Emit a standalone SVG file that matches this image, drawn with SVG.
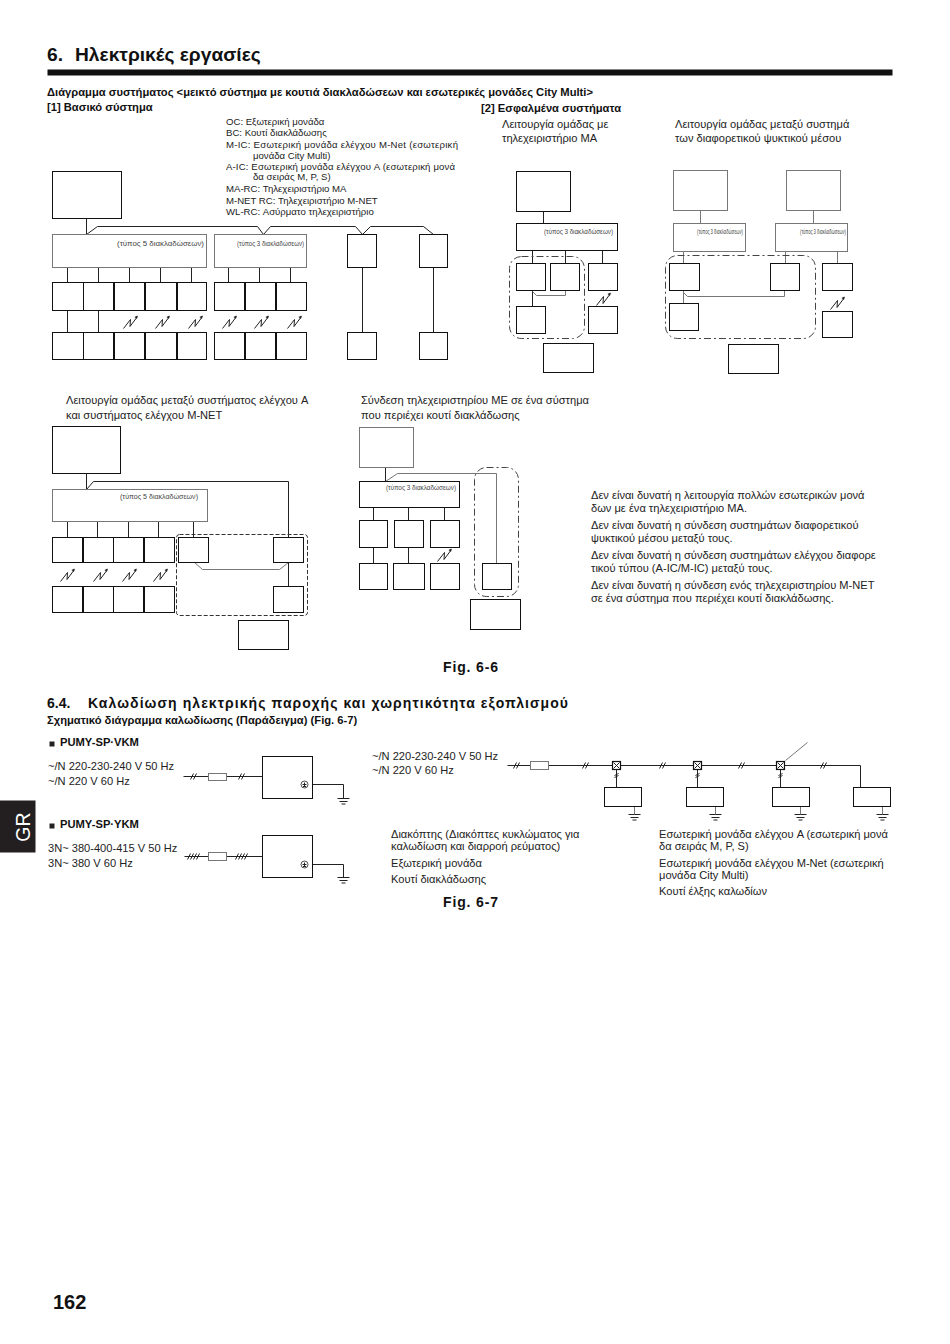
<svg xmlns="http://www.w3.org/2000/svg" width="950" height="1344" viewBox="0 0 950 1344">
<style>
text{font-family:"Liberation Sans",Arial,sans-serif;fill:#222;transform:translate(-.5px,-1px)}
.t{font-size:11.1px}
.s{font-size:9.6px}
.c{font-size:7.9px;fill:#444}
.cn{font-size:7.500px;fill:#444}
.b{font-weight:bold;font-size:11.2px;fill:#111}
.h{font-weight:bold;font-size:14px;fill:#111}
.f{font-weight:bold;font-size:14px;fill:#111}
rect{fill:#fff;stroke:#111;stroke-width:1}
.g rect,rect.g{stroke:#777}
path,line{fill:none;stroke:#222;stroke-width:1}
.gl{stroke:#777}
.d{fill:none;stroke:#444;stroke-dasharray:7 3 2 3}
</style>
<defs>
<symbol id="w" overflow="visible"><path d="M0 13L7 4L6.500 11L14 1" stroke-width=".8"/><path d="M14 0L11 1.500L13.500 3.500Z" style="fill:#222;stroke:none"/></symbol>
<symbol id="gnd" overflow="visible"><path d="M-6 0H6M-4 3H4M-2 5.500H2" stroke-width=".9"/></symbol>
<symbol id="sl" overflow="visible"><path d="M-3 3L0 -3M0 3L3 -3" stroke-width=".8"/></symbol>
<symbol id="sl4" overflow="visible"><path d="M-6 3L-3 -3M-3 3L0 -3M0 3L3 -3M3 3L6 -3" stroke-width=".8"/></symbol>
<symbol id="tb" overflow="visible"><rect x="-4" y="-4" width="8" height="8" style="stroke-width:1.200"/><path d="M-3 -3L3 3M3 -3L-3 3" stroke-width=".7"/></symbol>
</defs>
<g transform="translate(.5 .5)">
<g id="header">
<text x="47" y="61" style="font-size:19.2px;font-weight:bold;fill:#111">6.</text>
<text x="75" y="61" style="font-size:19.2px;font-weight:bold;fill:#111">Ηλεκτρικές εργασίες</text>
<path d="M47 72H892" style="stroke:#111;stroke-width:6"/>
<text class="b" x="47" y="96" textLength="546">Διάγραμμα συστήματος &lt;μεικτό σύστημα με κουτιά διακλαδώσεων και εσωτερικές μονάδες City Multi&gt;</text>
<text class="b" x="47" y="111">[1] Βασικό σύστημα</text>
<text class="b" x="481" y="112">[2] Εσφαλμένα συστήματα</text>
</g>
<g id="legend">
<text class="s" x="226" y="125">OC: Εξωτερική μονάδα</text>
<text class="s" x="226" y="136">BC: Κουτί διακλάδωσης</text>
<text class="s" x="226" y="148" textLength="232">M-IC:  Εσωτερική  μονάδα  ελέγχου  M-Net  (εσωτερική</text>
<text class="s" x="253" y="159">μονάδα City Multi)</text>
<text class="s" x="226" y="170" textLength="229">A-IC:  Εσωτερική  μονάδα  ελέγχου  A  (εσωτερική  μονά</text>
<text class="s" x="253" y="180">δα σειράς M, P, S)</text>
<text class="s" x="226" y="192">MA-RC: Τηλεχειριστήριο MA</text>
<text class="s" x="226" y="204">M-NET RC: Τηλεχειριστήριο M-NET</text>
<text class="s" x="226" y="215">WL-RC: Ασύρματο τηλεχειριστήριο</text>
</g>

<g id="connectors">
<path d="M86 218V234L97 226H257L263 234L270 226H355L362 234L370 226H423L433 234"/>
<path d="M67 267V282M98 267V282M129 267V282M160 267V282M191 267V282M228 267V282M259 267V282M290 267V282M362 267V332M433 267V332M67 310V332M98 310V332"/>
<path d="M543 211V223M532 250V263M565 250V263M602 250V263M532 290V306"/>
<path class="gl" d="M532 291L536 295H565V290"/>
<path class="gl" d="M700 210V223M813 210V223M683 251V263M785 251V263M837 251V263M683 290V303M683 292L687 296H784V290"/>
<path d="M86 473V489L93 481H288V537M67 521V537M97 521V537M128 521V537M158 521V537M193 521V537M288 562V586"/>
<path class="gl" d="M194 562L202 569H279L288 562"/>
<path d="M385 467V481M373 507V520M408 507V520M444 507V520M373 547V563M408 547V563"/>
<path class="gl" d="M385 481L397 473H496V563"/>
<path d="M183 776H262M312 784H343V798M184 856H262M312 864H343V877"/>
<path d="M507 765H860V787M616 765V787M697 765V787M780 765V787"/>
<path class="gl" d="M807 742L785 760"/>
</g>

<g id="marks">
<use href="#w" x="123" y="315"/><use href="#w" x="155" y="315"/><use href="#w" x="188" y="315"/>
<use href="#w" x="222" y="315"/><use href="#w" x="254" y="315"/><use href="#w" x="287" y="315"/>
<use href="#w" x="596" y="292"/><use href="#w" x="830" y="296"/>
<use href="#w" x="60" y="568"/><use href="#w" x="93" y="568"/><use href="#w" x="122" y="568"/><use href="#w" x="153" y="568"/>
<use href="#w" x="437" y="548"/>
<use href="#sl" x="193" y="776"/><use href="#sl" x="241" y="776"/>
<use href="#sl4" x="193" y="856"/><use href="#sl4" x="241" y="856"/>
<use href="#sl" x="516" y="765"/><use href="#sl" x="585" y="765"/><use href="#sl" x="662" y="765"/><use href="#sl" x="741" y="765"/><use href="#sl" x="823" y="765"/>
<use href="#gnd" x="343" y="798"/><use href="#gnd" x="343" y="877"/>
<use href="#gnd" x="634" y="814"/><use href="#gnd" x="715" y="814"/><use href="#gnd" x="800" y="814"/><use href="#gnd" x="882" y="814"/>
<path d="M634 806V814M715 806V814M800 806V814M882 806V814" class="gl"/>
<path d="M614 775L618 773M614 777L618 775M695 775L699 773M695 777L699 775M778 775L782 773M778 777L782 775" stroke-width=".7"/>
</g>

<g id="oc1"><rect x="52" y="171" width="69" height="47"/></g>
<g id="bc5a" class="g"><rect x="52" y="234" width="154" height="33"/><text class="c" x="117" y="246" textLength="87" lengthAdjust="spacingAndGlyphs">(τύπος 5 διακλαδώσεων)</text></g>
<g id="bc3a" class="g"><rect x="214" y="234" width="92" height="33"/><text class="cn" x="237" y="246" textLength="67" lengthAdjust="spacingAndGlyphs">(τύπος 3 διακλαδώσεων)</text></g>
<g id="a1"><rect x="347" y="234" width="29" height="33"/></g>
<g id="a2"><rect x="419" y="234" width="28" height="33"/></g>
<g id="u1"><rect x="52" y="282" width="31" height="28"/></g>
<g id="u2"><rect x="83" y="282" width="30" height="28"/></g>
<g id="u3"><rect x="114" y="282" width="30" height="28"/></g>
<g id="u4"><rect x="145" y="282" width="31" height="28"/></g>
<g id="u5"><rect x="177" y="282" width="29" height="28"/></g>
<g id="u6"><rect x="214" y="282" width="30" height="28"/></g>
<g id="u7"><rect x="245" y="282" width="30" height="28"/></g>
<g id="u8"><rect x="276" y="282" width="30" height="28"/></g>
<g id="r1"><rect x="52" y="332" width="31" height="27"/></g>
<g id="r2"><rect x="83" y="332" width="30" height="27"/></g>
<g id="r3"><rect x="114" y="332" width="30" height="27"/></g>
<g id="r4"><rect x="145" y="332" width="31" height="27"/></g>
<g id="r5"><rect x="177" y="332" width="29" height="27"/></g>
<g id="r6"><rect x="214" y="332" width="30" height="27"/></g>
<g id="r7"><rect x="245" y="332" width="30" height="27"/></g>
<g id="r8"><rect x="276" y="332" width="30" height="27"/></g>
<g id="r9"><rect x="347" y="332" width="29" height="27"/></g>
<g id="r10"><rect x="419" y="332" width="28" height="27"/></g>

<g id="wrong1-title"><text class="t" x="502" y="128">Λειτουργία ομάδας με</text><text class="t" x="502" y="142">τηλεχειριστήριο MA</text></g>
<g id="oc2"><rect x="516" y="171" width="54" height="40"/></g>
<g id="bc3b"><rect x="516" y="223" width="101" height="27"/><text class="cn" x="544" y="234" textLength="69" lengthAdjust="spacingAndGlyphs">(τύπος 3 διακλαδώσεων)</text></g>
<g id="w1u1"><rect x="516" y="263" width="29" height="27"/></g>
<g id="w1u2"><rect x="550" y="263" width="29" height="27"/></g>
<g id="w1u3"><rect x="588" y="263" width="29" height="27"/></g>
<g id="w1r1"><rect x="516" y="306" width="29" height="27"/></g>
<g id="w1r2"><rect x="588" y="306" width="29" height="27"/></g>
<g id="w1rc"><rect x="543" y="343" width="50" height="29"/></g>
<rect id="w1dash" class="d" x="509" y="256" width="75" height="82" rx="12" style="fill:none;stroke:#444"/>

<g id="wrong2-title"><text class="t" x="675" y="128">Λειτουργία ομάδας μεταξύ συστημά</text><text class="t" x="675" y="142">των διαφορετικού ψυκτικού μέσου</text></g>
<g id="oc3" class="g"><rect x="673" y="170" width="54" height="40"/></g>
<g id="oc4" class="g"><rect x="786" y="170" width="54" height="40"/></g>
<g id="bc3c" class="g"><rect x="673" y="223" width="72" height="28"/><text class="cn" x="697" y="234" textLength="46" lengthAdjust="spacingAndGlyphs">(τύπος 3 διακλαδώσεων)</text></g>
<g id="bc3d" class="g"><rect x="775" y="223" width="72" height="28"/><text class="cn" x="800" y="234" textLength="46" lengthAdjust="spacingAndGlyphs">(τύπος 3 διακλαδώσεων)</text></g>
<g id="w2u1"><rect x="669" y="263" width="30" height="27"/></g>
<g id="w2u2"><rect x="770" y="263" width="29" height="27"/></g>
<g id="w2u3"><rect x="822" y="263" width="30" height="27"/></g>
<g id="w2r1"><rect x="669" y="303" width="29" height="27"/></g>
<g id="w2r2"><rect x="822" y="311" width="30" height="26"/></g>
<g id="w2rc"><rect x="728" y="344" width="50" height="29"/></g>
<rect id="w2dash" class="d" x="665" y="255" width="150" height="83" rx="12" style="fill:none;stroke:#444"/>

<g id="ga-title"><text class="t" x="66" y="404">Λειτουργία ομάδας μεταξύ συστήματος ελέγχου A</text><text class="t" x="66" y="419">και συστήματος ελέγχου M-NET</text></g>
<g id="oc5"><rect x="52" y="426" width="68" height="47"/></g>
<g id="bc5b" class="g"><rect x="52" y="489" width="155" height="32"/><text class="c" x="120" y="499" textLength="78" lengthAdjust="spacingAndGlyphs">(τύπος 5 διακλαδώσεων)</text></g>
<g id="g1"><rect x="52" y="537" width="30" height="25"/></g>
<g id="g2"><rect x="83" y="537" width="30" height="25"/></g>
<g id="g3"><rect x="113" y="537" width="30" height="25"/></g>
<g id="g4"><rect x="144" y="537" width="30" height="25"/></g>
<g id="g5"><rect x="178" y="537" width="30" height="25"/></g>
<g id="g6"><rect x="273" y="537" width="30" height="25"/></g>
<g id="h1"><rect x="52" y="586" width="30" height="26"/></g>
<g id="h2"><rect x="83" y="586" width="30" height="26"/></g>
<g id="h3"><rect x="113" y="586" width="30" height="26"/></g>
<g id="h4"><rect x="144" y="586" width="30" height="26"/></g>
<g id="h6"><rect x="273" y="586" width="30" height="26"/></g>
<g id="garc"><rect x="238" y="620" width="50" height="29"/></g>
<rect id="gadash" class="d" x="176" y="534" width="131" height="81" rx="3" style="fill:none;stroke:#333;stroke-dasharray:4 2"/>

<g id="me-title"><text class="t" x="361" y="404">Σύνδεση τηλεχειριστηρίου ME σε ένα σύστημα</text><text class="t" x="361" y="419">που περιέχει κουτί διακλάδωσης</text></g>
<g id="oc6" class="g"><rect x="359" y="427" width="54" height="40"/></g>
<g id="bc3e"><rect x="359" y="481" width="100" height="26"/><text class="cn" x="386" y="490" textLength="70" lengthAdjust="spacingAndGlyphs">(τύπος 3 διακλαδώσεων)</text></g>
<g id="m1"><rect x="359" y="520" width="28" height="27"/></g>
<g id="m2"><rect x="394" y="520" width="29" height="27"/></g>
<g id="m3"><rect x="430" y="520" width="29" height="27"/></g>
<g id="n1"><rect x="359" y="563" width="28" height="26"/></g>
<g id="n2"><rect x="393" y="563" width="31" height="26"/></g>
<g id="n3"><rect x="430" y="563" width="29" height="26"/></g>
<g id="n4"><rect x="482" y="563" width="29" height="26"/></g>
<g id="merc"><rect x="470" y="599" width="50" height="30"/></g>
<rect id="medash" class="d" x="474" y="467" width="44" height="129" rx="12" style="fill:none;stroke:#444"/>

<g id="notes">
<text class="t" x="591" y="499">Δεν είναι δυνατή η λειτουργία πολλών εσωτερικών μονά</text>
<text class="t" x="591" y="512">δων με ένα τηλεχειριστήριο MA.</text>
<text class="t" x="591" y="529">Δεν είναι δυνατή η σύνδεση συστημάτων διαφορετικού</text>
<text class="t" x="591" y="542">ψυκτικού μέσου μεταξύ τους.</text>
<text class="t" x="591" y="559">Δεν είναι δυνατή η σύνδεση συστημάτων ελέγχου διαφορε</text>
<text class="t" x="591" y="572">τικού τύπου (A-IC/M-IC) μεταξύ τους.</text>
<text class="t" x="591" y="589">Δεν είναι δυνατή η σύνδεση ενός τηλεχειριστηρίου M-NET</text>
<text class="t" x="591" y="602">σε ένα σύστημα που περιέχει κουτί διακλάδωσης.</text>
</g>
<text class="f" x="443" y="672" textLength="55">Fig. 6-6</text>

<g id="sec64">
<text class="h" x="47" y="708">6.4.</text>
<text class="h" x="88" y="708" textLength="480">Καλωδίωση ηλεκτρικής παροχής και χωρητικότητα εξοπλισμού</text>
<text class="b" x="47" y="724">Σχηματικό διάγραμμα καλωδίωσης (Παράδειγμα) (Fig. 6-7)</text>
</g>

<g id="vkm">
<rect x="49" y="741" width="5" height="5" style="fill:#222;stroke:none"/>
<text class="b" x="60" y="746">PUMY-SP·VKM</text>
<text class="t" x="48" y="770">~/N 220-230-240 V 50 Hz</text>
<text class="t" x="48" y="785">~/N 220 V 60 Hz</text>
<rect class="g" x="208" y="773" width="18" height="7"/>
<rect x="262" y="756" width="50" height="42"/>
<circle cx="304" cy="784" r="3.500" style="fill:#fff;stroke:#222;stroke-width:.8"/><path d="M304 782V786M302 784H306M302.500 786H305.500" stroke-width=".7"/>
</g>
<g id="ykm">
<rect x="49" y="823" width="5" height="5" style="fill:#222;stroke:none"/>
<text class="b" x="60" y="828">PUMY-SP·YKM</text>
<text class="t" x="48" y="852">3N~ 380-400-415 V 50 Hz</text>
<text class="t" x="48" y="867">3N~ 380 V 60 Hz</text>
<rect class="g" x="208" y="852" width="18" height="8"/>
<rect x="262" y="835" width="50" height="42"/>
<circle cx="304" cy="864" r="3.500" style="fill:#fff;stroke:#222;stroke-width:.8"/><path d="M304 862V866M302 864H306M302.500 866H305.500" stroke-width=".7"/>
</g>

<g id="line-diagram">
<text class="t" x="372" y="760">~/N 220-230-240 V 50 Hz</text>
<text class="t" x="372" y="774">~/N 220 V 60 Hz</text>
<rect class="g" x="530" y="761" width="18" height="8"/>
<use href="#tb" x="616" y="765"/><use href="#tb" x="697" y="765"/><use href="#tb" x="780" y="765"/>
<rect x="604" y="787" width="37" height="19"/>
<rect x="686" y="787" width="37" height="19"/>
<rect x="772" y="787" width="37" height="19"/>
<rect x="853" y="787" width="37" height="19"/>
</g>

<g id="wiring-legend">
<text class="t" x="391" y="838">Διακόπτης (Διακόπτες κυκλώματος για</text>
<text class="t" x="391" y="850">καλωδίωση και διαρροή ρεύματος)</text>
<text class="t" x="391" y="867">Εξωτερική μονάδα</text>
<text class="t" x="391" y="883">Κουτί διακλάδωσης</text>
<text class="t" x="659" y="838">Εσωτερική μονάδα ελέγχου A (εσωτερική μονά</text>
<text class="t" x="659" y="850">δα σειράς M, P, S)</text>
<text class="t" x="659" y="867">Εσωτερική μονάδα ελέγχου M-Net (εσωτερική</text>
<text class="t" x="659" y="879">μονάδα City Multi)</text>
<text class="t" x="659" y="895">Κουτί έλξης καλωδίων</text>
</g>
<text class="f" x="443" y="907" textLength="55">Fig. 6-7</text>

<g id="tab">
<rect x="-1" y="800" width="36" height="52" style="fill:#231f20;stroke:none"/>
<g transform="translate(30 826) rotate(-90)"><text x="0" y="0" text-anchor="middle" style="font-size:19.500px;fill:#fff">GR</text></g>
</g>
<text x="53" y="1309" style="font-size:20px;font-weight:bold;fill:#111">162</text>
</g>
</svg>
